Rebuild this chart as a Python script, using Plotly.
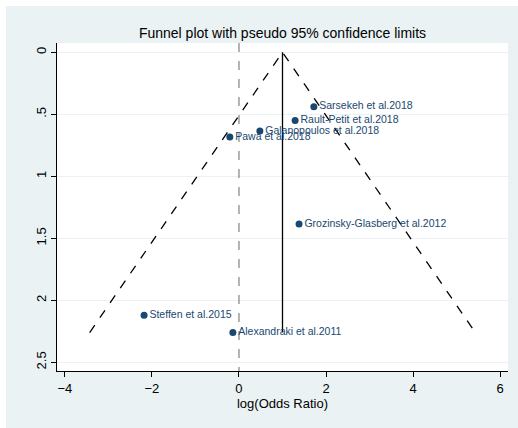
import plotly.graph_objects as go

# Study data (log odds ratio, standard error)
studies = ["Sarsekeh et al.2018", "Rault-Petit et al.2018", "Galanopoulos et al.2018",
           "Pawa et al.2018", "Grozinsky-Glasberg et al.2012", "Steffen et al.2015",
           "Alexandraki et al.2011"]
log_or = [1.72, 1.29, 0.48, -0.21, 1.38, -2.18, -0.14]
se = [0.44, 0.55, 0.635, 0.683, 1.385, 2.12, 2.26]

pooled = 1.0
max_se = 2.26
z = 1.96

x_ticks = [-4, -2, 0, 2, 4, 6]
y_ticks = [0, 0.5, 1, 1.5, 2, 2.5]
y_ticklabels = ["0", ".5", "1", "1.5", "2", "2.5"]

navy = "#1a476f"
bg = "#eaf2f3"

fig = go.Figure()

# pseudo 95% CI funnel
fig.add_trace(go.Scatter(
    x=[pooled - z * max_se, pooled, pooled + z * max_se],
    y=[max_se, 0, max_se],
    mode="lines", line=dict(color="black", width=1.3, dash="dash"),
    hoverinfo="skip", showlegend=False))

# pooled estimate line
fig.add_trace(go.Scatter(
    x=[pooled, pooled], y=[0, max_se],
    mode="lines", line=dict(color="black", width=1.3),
    hoverinfo="skip", showlegend=False))

# null line
fig.add_trace(go.Scatter(
    x=[0, 0], y=[-0.075, 2.57],
    mode="lines", line=dict(color="#8c8c8c", width=1.3, dash="dash"),
    hoverinfo="skip", showlegend=False))

# studies
fig.add_trace(go.Scatter(
    x=log_or, y=se, mode="markers+text",
    marker=dict(color=navy, size=7),
    text=studies, textposition="middle right",
    textfont=dict(color=navy, size=10.5, family="Liberation Sans, Arial, sans-serif"),
    showlegend=False))

W, H = 518, 428
L, R, T, B = 57, 10, 43, 57
pw = W - L - R
ph = H - T - B

# thin white border at the top and left of the light-blue page
fig.add_shape(type="rect", xref="paper", yref="paper",
              x0=-L / pw, x1=(6 - L) / pw, y0=-B / ph, y1=1 + T / ph,
              fillcolor="white", line=dict(width=0), layer="above")
fig.add_shape(type="rect", xref="paper", yref="paper",
              x0=-L / pw, x1=1 + R / pw, y0=1 + (T - 6) / ph, y1=1 + T / ph,
              fillcolor="white", line=dict(width=0), layer="above")

fig.update_layout(
    width=W, height=H,
    margin=dict(l=L, r=R, t=T, b=B, autoexpand=False),
    paper_bgcolor=bg,
    plot_bgcolor="white",
    font=dict(family="Liberation Sans, Arial, sans-serif", color="black"),
    title=dict(text="Funnel plot with pseudo 95% confidence limits",
               x=(L + pw / 2) / W, xanchor="center", y=1 - 33 / H, yanchor="middle",
               font=dict(size=14, color="black"), automargin=False),
    xaxis=dict(range=[-4.18, 6.18], tickvals=x_ticks, showgrid=False, zeroline=False,
               showline=True, linecolor="black", linewidth=1, automargin=False,
               ticks="outside", ticklen=5, tickcolor="black",
               tickfont=dict(size=13),
               title=dict(text="log(Odds Ratio)", font=dict(size=13), standoff=0)),
    yaxis=dict(range=[2.57, -0.075], tickvals=y_ticks, ticktext=y_ticklabels,
               tickangle=-90, showgrid=True, gridcolor=bg, gridwidth=1,
               zeroline=False, showline=True, linecolor="black", linewidth=1,
               automargin=False,
               ticks="outside", ticklen=5, tickcolor="black",
               tickfont=dict(size=13)),
)

fig.write_html("out.html", config={"displayModeBar": False},
               post_script="document.body.style.margin='0';document.body.style.background='white';")
